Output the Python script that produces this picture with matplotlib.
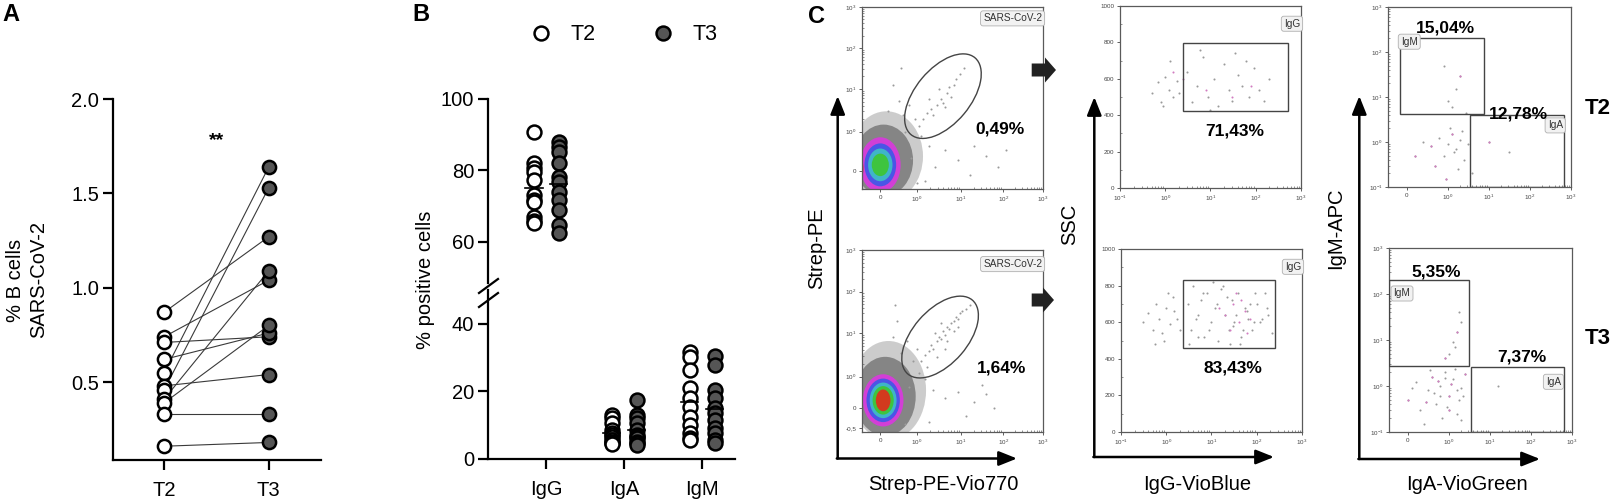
import numpy as np
import matplotlib
matplotlib.use("Agg")
import matplotlib.pyplot as plt
from matplotlib.lines import Line2D
from matplotlib.patches import Ellipse, Rectangle, FancyArrow

plt.rcParams["font.family"] = ["Liberation Sans", "DejaVu Sans"]
plt.rcParams["mathtext.default"] = "regular"

W, H = 1615, 503

# ---- panel A: % SARS-CoV-2 B cells, paired T2 -> T3
A_GROUPS = ["T2", "T3"]
A_T2 = [0.87, 0.74, 0.71, 0.62, 0.55, 0.48, 0.46, 0.41, 0.39, 0.33, 0.16]
A_T3 = [1.27, 1.04, 0.74, 0.76, 1.64, 0.54, 1.53, 1.09, 0.80, 0.33, 0.18]

# ---- panel B: % positive cells per isotype
B_CATS = ["IgG", "IgA", "IgM"]
B_T2 = [
    [90.9, 82.0, 80.6, 79.7, 77.3, 73.1, 71.7, 71.3, 67.1, 65.8, 65.2],
    [13.0, 12.0, 10.6, 8.6, 7.6, 7.0, 6.6, 5.6, 5.1, 4.6, 4.4],
    [31.8, 30.3, 26.4, 20.9, 18.0, 15.5, 12.5, 10.1, 7.6, 6.1, 5.6],
]
B_T3 = [
    [88.1, 86.7, 85.3, 82.0, 78.3, 76.9, 74.1, 71.7, 69.0, 64.8, 62.4],
    [17.5, 13.0, 12.0, 10.6, 8.6, 7.1, 6.6, 6.1, 5.0, 4.6, 4.0],
    [30.5, 27.9, 20.4, 18.0, 15.0, 13.5, 11.6, 9.1, 7.6, 5.6, 4.6],
]

# ---- panel C: flow cytometry (rough event positions)
C1_PCT = ["0,49%", "1,64%"]
C2_PCT = ["71,43%", "83,43%"]
C3_IGM_PCT = ["15,04%", "5,35%"]
C3_IGA_PCT = ["12,78%", "7,37%"]

c1t_x = [1.05, 1.15, 1.25, 1.3, 1.4, 1.5, 1.55, 1.65, 1.7, 1.8, 1.85, 1.95, 1.2, 1.45, 1.6, 2.05, 0.95, 1.75,
         0.55, 0.7, 0.85, 1.0, 1.2, 0.6, 0.45, 0.75, 1.35, 1.6, 1.9, 2.3, 2.6, 2.9, 2.2, 1.1, 0.9, 0.3, 0.2, 0.5, 2.5, 3.1]
c1t_y = [1.25, 1.4, 1.5, 1.35, 1.6, 1.75, 1.65, 1.9, 2.05, 2.1, 2.25, 2.35, 1.75, 2.0, 1.55, 2.5, 1.1, 1.8,
         1.35, 1.6, 1.25, 0.85, 0.6, 0.95, 1.7, 0.3, 0.1, 0.5, 0.25, 0.6, 0.35, 0.1, -0.1, -0.25, -0.3, 2.1, 1.45, 2.5, 1.0, 0.5]
c1b_x = [1.0, 1.1, 1.2, 1.25, 1.3, 1.4, 1.45, 1.5, 1.55, 1.6, 1.65, 1.7, 1.75, 1.8, 1.85, 1.9, 1.95, 2.0, 2.1, 1.35,
         1.5, 1.65, 1.8, 1.15, 1.4, 1.6, 1.9, 2.2,
         0.5, 0.65, 0.8, 0.95, 1.1, 0.7, 0.4, 0.3, 0.9, 1.3, 1.6, 1.9, 2.3, 2.6, 2.8, 2.1, 1.2, 0.6, 0.35, 2.5]
c1b_y = [1.2, 1.35, 1.45, 1.6, 1.5, 1.7, 1.8, 1.75, 1.95, 1.85, 2.05, 2.0, 2.15, 2.2, 2.3, 2.25, 2.4, 2.45, 2.5, 1.9,
         2.15, 1.7, 1.95, 1.05, 1.3, 1.5, 2.05, 2.6,
         1.4, 1.7, 1.2, 0.9, 0.75, 0.55, 2.2, 1.8, 1.5, 0.45, 0.25, 0.4, 0.15, 0.35, 0.0, -0.2, -0.35, -0.4, 2.6, 0.6]

c2t_x = [0.5, 0.7, 0.8, 1.0, 1.2, 1.5, 1.8, 0.9, 1.3, 2.0,
         3, 4, 5, 7, 9, 12, 15, 20, 25, 30, 40, 50, 70, 90, 120, 150, 200, 6, 10, 35, 60]
c2t_y = [520, 580, 470, 610, 540, 500, 590, 450, 700, 520,
         640, 470, 560, 720, 500, 600, 450, 680, 540, 480, 620, 560, 500, 660, 540, 480, 600, 760, 430, 740, 700]
c2t_pink_x = [2.5, 8, 30, 80, 1.5]
c2t_pink_y = [600, 540, 500, 560, 640]
c2b_x = [0.3, 0.4, 0.5, 0.6, 0.7, 0.8, 1.0, 1.2, 1.4, 1.7, 2.0, 0.9, 1.1, 1.5, 0.55,
         3, 3.5, 4, 5, 6, 7, 8, 10, 12, 14, 16, 20, 24, 28, 32, 38, 45, 55, 65, 80, 100, 120, 150, 180, 220,
         3.2, 4.5, 6.5, 9, 13, 18, 26, 35, 50, 70, 90, 130, 170, 5, 11, 22, 42, 85, 60, 30]
c2b_y = [600, 650, 560, 700, 620, 540, 680, 590, 740, 620, 560, 500, 760, 660, 480,
         700, 560, 800, 640, 720, 520, 760, 600, 680, 500, 780, 640, 560, 720, 600, 760, 520, 680, 620, 560,
         700, 600, 760, 640, 540,
         480, 620, 760, 560, 700, 800, 480, 640, 560, 700, 760, 620, 680, 520, 820, 740, 480, 600, 660, 580]
c2b_pink_x = [20, 30, 40, 55, 70, 25, 45, 15, 35, 60]
c2b_pink_y = [640, 700, 600, 660, 620, 560, 720, 680, 760, 540]

c3t_x = [0.6, 0.8, 0.9, 1.0, 1.1, 1.2, 1.3, 1.4, 0.7, 1.05, 1.25, 1.5, 0.95, 1.15, 1.35, 0.4, 0.2, 1.6,
         1.0, 1.2, 1.3, 0.9, 1.1, 1.45, 2.0, 2.5]
c3t_y = [0.8, 1.2, 0.5, 0.9, 1.5, 0.7, 1.1, 0.4, 0.3, 2.0, 0.25, 0.9, 0.15, 0.6, 1.8, 1.0, 0.5, 0.2,
         8, 15, 30, 50, 6, 4.5, 1.0, 0.6]
c3b_x = [0.0, 0.2, 0.3, 0.5, 0.6, 0.7, 0.8, 0.9, 1.0, 1.1, 1.2, 1.3, 1.4, 0.4, 0.65, 0.85, 1.05, 1.25, 0.1, 0.55,
         0.75, 0.95, 1.15, 1.35, 0.45, 0.9, 1.2, 1.3, 1.0, 0.8,
         1.0, 1.1, 1.2, 1.3, 1.25, 1.15, 0.9, 2.2]
c3b_y = [0.5, 1.2, 0.3, 0.8, 1.6, 0.4, 1.0, 2.0, 0.6, 1.4, 0.25, 0.9, 1.8, 0.15, 0.7, 0.2, 1.1, 0.5, 0.9, 2.2,
         1.3, 0.35, 2.4, 0.6, 0.45, 1.5, 0.8, 0.18, 0.3, 0.6,
         5, 9, 15, 25, 40, 7, 4, 1.0]

DARK = "#555555"
DOT = "#9a9a9a"
PINK = "#d27cc0"
BLOB_COLORS = ["#c4c4c4", "#858585", "#d23fd6", "#4b55e6", "#3fb5c8", "#3ec43e", "#d23a1e"]

fig = plt.figure(figsize=(W / 100, H / 100), dpi=100)


def px_axes(x0, y0, x1, y1):
    return fig.add_axes([x0 / W, 1 - y1 / H, (x1 - x0) / W, (y1 - y0) / H])


# overlay in pixel coordinates for texts / arrows
ov = fig.add_axes([0, 0, 1, 1], zorder=10)
ov.set_xlim(0, W)
ov.set_ylim(H, 0)
ov.axis("off")

# ================= A =================
axA = px_axes(113, 99, 321, 460)
for a, b in zip(A_T2, A_T3):
    axA.plot([0, 1], [a, b], color="#3a3a3a", lw=0.8, zorder=1)
axA.plot(np.zeros(len(A_T2)), A_T2, "o", ms=9.5, mfc="white", mec="black", mew=1.8, zorder=3, clip_on=False)
axA.plot(np.ones(len(A_T3)), A_T3, "o", ms=9.5, mfc=DARK, mec="black", mew=1.8, zorder=3, clip_on=False)
axA.set_xlim(-0.49, 1.5)
axA.set_ylim(0.087, 2.0)
axA.set_xticks([0, 1])
axA.set_xticklabels(A_GROUPS)
axA.set_yticks([0.5, 1.0, 1.5, 2.0])
axA.set_yticklabels(["0.5", "1.0", "1.5", "2.0"])
for s in ["top", "right"]:
    axA.spines[s].set_visible(False)
for s in ["left", "bottom"]:
    axA.spines[s].set_linewidth(1.6)
axA.tick_params(labelsize=14.5, width=1.6, length=7, pad=3)
axA.tick_params(axis="x", pad=8)
axA.text(0.5, 1.78, "**", ha="center", va="center", fontsize=14, fontweight="bold")
ov.text(27, 280, "% B cells\nSARS-CoV-2", rotation=90, ha="center", va="center",
        fontsize=14.5, linespacing=1.3, multialignment="center")
ov.text(11, 14, "A", ha="center", va="center", fontsize=17, fontweight="bold")

# ================= B =================
axBu = px_axes(488, 99, 735, 283)
axBl = px_axes(488, 290, 735, 459)
off = 0.16
for ax in (axBu, axBl):
    for i in range(len(B_CATS)):
        ax.plot(np.full(len(B_T2[i]), i - off), B_T2[i], "o", ms=10, mfc="white", mec="black", mew=1.8, zorder=3)
        ax.plot(np.full(len(B_T3[i]), i + off), B_T3[i], "o", ms=10, mfc=DARK, mec="black", mew=1.8, zorder=3)
        ax.plot([i - off - 0.11, i - off + 0.11], [np.mean(B_T2[i])] * 2, color="black", lw=1.2, zorder=4)
        ax.plot([i + off - 0.11, i + off + 0.11], [np.mean(B_T3[i])] * 2, color="black", lw=1.2, zorder=4)
    ax.set_xlim(-0.75, 2.42)
    for s in ["top", "right"]:
        ax.spines[s].set_visible(False)
    for s in ["left", "bottom"]:
        ax.spines[s].set_linewidth(1.6)
    ax.tick_params(labelsize=14.5, width=1.6, length=7, pad=3)
axBu.set_ylim(48.5, 100)
axBu.set_yticks([60, 80, 100])
axBu.spines["bottom"].set_visible(False)
axBu.set_xticks([])
axBl.set_ylim(0, 50)
axBl.set_yticks([0, 20, 40])
axBl.set_xticks(range(len(B_CATS)))
axBl.set_xticklabels(B_CATS)
axBl.tick_params(axis="x", pad=8)
for yy in (286, 300):
    ov.add_line(Line2D([479, 498], [yy + 7, yy - 7], color="black", lw=1.6))
ov.text(426, 280, "% positive cells", rotation=90, ha="center", va="center", fontsize=14.5)
handles = [Line2D([], [], ls="none", marker="o", ms=10, mfc="white", mec="black", mew=1.8),
           Line2D([], [], ls="none", marker="o", ms=10, mfc=DARK, mec="black", mew=1.8)]
ov.legend(handles, A_GROUPS, ncol=2, loc="center", bbox_to_anchor=(624 / W, 1 - 35 / H),
          bbox_transform=fig.transFigure, frameon=False, fontsize=15.5,
          handlelength=1.0, handletextpad=0.9, columnspacing=2.6)
ov.text(421, 14, "B", ha="center", va="center", fontsize=17, fontweight="bold")

# ================= C =================
SUP = {-1: r"$10^{-1}$", 0: r"$10^{0}$", 1: r"$10^{1}$", 2: r"$10^{2}$", 3: r"$10^{3}$"}


def flow_frame(ax):
    for s in ax.spines.values():
        s.set_color("#5a5a5a")
        s.set_linewidth(0.9)
    ax.tick_params(which="major", length=2.5, width=0.6, labelsize=4.5, colors="#444444", pad=1.5)
    ax.tick_params(which="minor", length=1.6, width=0.5, direction="in", colors="#666666")


def log_minor(majors):
    out = []
    for a, b in zip(majors[:-1], majors[1:]):
        out += [a + (b - a) * np.log10(k) for k in range(2, 10)]
    return out


def gate_label(ax, x, y, s, ha="right"):
    ax.text(x, y, s, transform=ax.transAxes, ha=ha, va="top", fontsize=7.3, color="#333333",
            bbox=dict(boxstyle="round,pad=0.25", fc="#f2f2f2", ec="#b0b0b0", lw=0.6))


def blob(ax, layers):
    for (cx, cy, w, h), col in zip(layers, BLOB_COLORS):
        ax.add_patch(Ellipse((cx, cy), w, h, color=col, lw=0, alpha=0.85 if col == BLOB_COLORS[0] else 1))


# --- C1: Strep-PE vs Strep-PE-Vio770
c1_boxes = [(862, 7, 1043, 189), (862, 250, 1043, 432)]
c1_ylims = [(-0.45, 4), (-0.6, 4)]
c1_yticks = [([0, 0.95, 2, 3, 4], ["0", SUP[0], SUP[1], SUP[2], SUP[3]]),
             ([-0.5, 0, 0.8, 1.9, 2.95, 4], ["-0,5", "0", SUP[0], SUP[1], SUP[2], SUP[3]])]
c1_blobs = [
    [(0.15, 0.35, 1.8, 2.2), (0.08, 0.25, 1.45, 1.75), (0.0, 0.14, 1.0, 1.35), (0.0, 0.14, 0.78, 1.05),
     (0.0, 0.14, 0.6, 0.8), (0.0, 0.14, 0.42, 0.55), (-0.44, 0.05, 0.05, 0.3)],
    [(0.2, 0.45, 1.85, 2.5), (0.12, 0.3, 1.5, 2.0), (0.07, 0.2, 1.0, 1.32), (0.07, 0.2, 0.82, 1.1),
     (0.07, 0.2, 0.66, 0.9), (0.07, 0.2, 0.52, 0.72), (0.07, 0.2, 0.36, 0.55)],
]
c1_gates = [(1.54, 1.82), (1.47, 1.8)]
c1_dots = [(c1t_x, c1t_y), (c1b_x, c1b_y)]
c1_pct_xy = [(1000, 129), (1002, 368)]
xmaj = [0, 0.9, 1.98, 3.02, 4]
for k in range(2):
    ax = px_axes(*c1_boxes[k])
    blob(ax, c1_blobs[k])
    ax.scatter(*c1_dots[k], s=2.2, c=DOT, lw=0, zorder=2)
    ax.add_patch(Ellipse(c1_gates[k], 1.35, 2.45, angle=-40, fill=False, ec="#444444", lw=1.0, zorder=3))
    ax.set_xlim(-0.45, 4)
    ax.set_ylim(*c1_ylims[k])
    ax.set_xticks(xmaj)
    ax.set_xticklabels(["0", SUP[0], SUP[1], SUP[2], SUP[3]])
    ax.set_xticks(log_minor(xmaj[1:]), minor=True)
    ax.set_yticks(c1_yticks[k][0])
    ax.set_yticklabels(c1_yticks[k][1])
    ax.set_yticks(log_minor(c1_yticks[k][0][-4:]), minor=True)
    flow_frame(ax)
    gate_label(ax, 0.995, 0.965 if k == 0 else 0.95, "SARS-CoV-2")
    ov.text(*c1_pct_xy[k], C1_PCT[k], ha="center", va="center", fontsize=12.5, fontweight="bold")

# --- C2: SSC vs IgG-VioBlue
c2_boxes = [(1120, 6, 1301, 188), (1121, 249, 1302, 432)]
c2_gates = [(2.46, 423, 525, 795), (2.4, 457, 256, 828)]
c2_dots = [(c2t_x, c2t_y, c2t_pink_x, c2t_pink_y), (c2b_x, c2b_y, c2b_pink_x, c2b_pink_y)]
c2_pct_xy = [(1235, 131), (1233, 368)]
for k in range(2):
    ax = px_axes(*c2_boxes[k])
    gx, gy0, gx1, gy1 = c2_gates[k]
    dx, dy, px, py = c2_dots[k]
    ax.scatter(dx, dy, s=2.2, c=DOT, lw=0, zorder=2)
    ax.scatter(px, py, s=2.2, c=PINK, lw=0, zorder=2)
    ax.add_patch(Rectangle((gx, gy0), gx1 - gx, gy1 - gy0, fill=False, ec="#444444", lw=1.0, zorder=3))
    ax.set_xscale("log")
    ax.set_xlim(0.1, 1000)
    ax.set_ylim(0, 1000)
    ax.set_xticks([0.1, 1, 10, 100, 1000])
    ax.set_xticklabels([SUP[-1], SUP[0], SUP[1], SUP[2], SUP[3]])
    ax.set_yticks([0, 200, 400, 600, 800, 1000])
    ax.set_yticks(np.arange(100, 1000, 200), minor=True)
    flow_frame(ax)
    gate_label(ax, 0.995, 0.93, "IgG")
    ov.text(*c2_pct_xy[k], C2_PCT[k], ha="center", va="center", fontsize=12.5, fontweight="bold")

# --- C3: IgM-APC vs IgA-VioGreen
c3_boxes = [(1388, 7, 1571, 187), (1389, 248, 1572, 432)]
c3_igm = [(-0.165, 4.27, 1.88, 204), (-0.45, 2.7, 1.5, 200)]
c3_iga = [(1.55, 0.1, 3.83, 4.07), (1.536, 0.1, 3.795, 2.6)]
c3_dots = [(c3t_x, c3t_y), (c3b_x, c3b_y)]
c3_igm_xy = [(1445, 28), (1436, 272)]
c3_iga_xy = [(1518, 114), (1522, 357)]
c3_igm_lab = [(0.07, 0.835), (0.025, 0.78)]
c3_iga_lab = [(0.955, 0.37), (0.94, 0.3)]
for k in range(2):
    ax = px_axes(*c3_boxes[k])
    ax.scatter(*c3_dots[k], s=2.2, c=DOT, lw=0, zorder=2)
    ax.scatter(c3_dots[k][0][::4], c3_dots[k][1][::4], s=2.2, c=PINK, lw=0, zorder=2)
    for (x0, y0, x1, y1) in (c3_igm[k], c3_iga[k]):
        ax.add_patch(Rectangle((x0, y0), x1 - x0, y1 - y0, fill=False, ec="#444444", lw=1.0, zorder=3))
    ax.set_yscale("log")
    ax.set_xlim(-0.45, 4)
    ax.set_ylim(0.1, 1000)
    ax.set_xticks([0, 1, 2, 3, 4])
    ax.set_xticklabels(["0", SUP[0], SUP[1], SUP[2], SUP[3]])
    ax.set_xticks(log_minor([1, 2, 3, 4]), minor=True)
    ax.set_yticks([0.1, 1, 10, 100, 1000])
    ax.set_yticklabels([SUP[-1], SUP[0], SUP[1], SUP[2], SUP[3]])
    flow_frame(ax)
    ax.tick_params(axis="y", which="minor", labelleft=False)
    gate_label(ax, *c3_igm_lab[k], "IgM", ha="left")
    gate_label(ax, *c3_iga_lab[k], "IgA")
    ov.text(*c3_igm_xy[k], C3_IGM_PCT[k], ha="center", va="center", fontsize=12.5, fontweight="bold")
    ov.text(*c3_iga_xy[k], C3_IGA_PCT[k], ha="center", va="center", fontsize=12.5, fontweight="bold")

ov.text(1598, 108, "T2", ha="center", va="center", fontsize=16, fontweight="bold")
ov.text(1598, 338, "T3", ha="center", va="center", fontsize=16, fontweight="bold")

# L-shaped axis arrows and labels
arrow_kw = dict(arrowstyle="-|>,head_length=0.55,head_width=0.22", lw=1.8, color="black",
                shrinkA=0, shrinkB=0, mutation_scale=20)
for (xc, yc, ytip, xtip) in [(837.7, 458.5, 96, 1017), (1094.3, 457, 97, 1274), (1359.3, 459, 96, 1540)]:
    ov.annotate("", xy=(xc, ytip), xytext=(xc, yc), arrowprops=arrow_kw)
    ov.annotate("", xy=(xtip, yc), xytext=(xc - 0.9, yc), arrowprops=arrow_kw)

ov.text(817, 248, "Strep-PE", rotation=90, ha="center", va="center", fontsize=14.5)
ov.text(1070, 224, "SSC", rotation=90, ha="center", va="center", fontsize=14.5)
ov.text(1336, 228, "IgM-APC", rotation=90, ha="center", va="center", fontsize=14.5)
ov.text(943, 485, "Strep-PE-Vio770", ha="center", va="center", fontsize=14.5)
ov.text(1197, 485, "IgG-VioBlue", ha="center", va="center", fontsize=14.5)
ov.text(1467, 485, "IgA-VioGreen", ha="center", va="center", fontsize=14.5)

# block arrows between gating steps
for (x0, yc, x1) in [(1031.7, 70, 1056), (1031.7, 300, 1054)]:
    ov.add_patch(FancyArrow(x0, yc, x1 - x0, 0, width=13, head_width=25, head_length=11,
                            length_includes_head=True, color="#222222", lw=0))

ov.text(817, 16, "C", ha="center", va="center", fontsize=17, fontweight="bold")

fig.savefig("out.png", dpi=100)
